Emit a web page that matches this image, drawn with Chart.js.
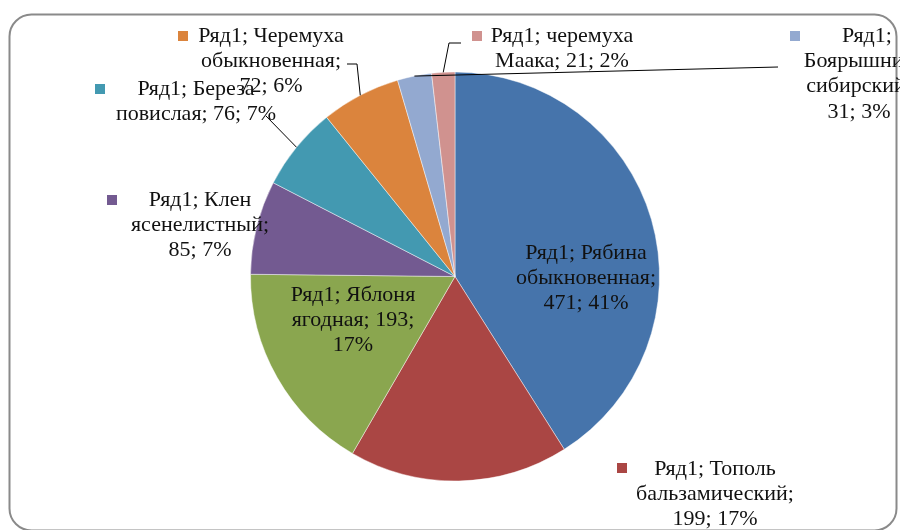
<!DOCTYPE html>
<html>
<head>
<meta charset="utf-8">
<script src="https://cdn.jsdelivr.net/npm/chart.js@4.4.0/dist/chart.umd.min.js"></script>
<style>
  html, body { margin: 0; padding: 0; background: #fff; }
  #canvasPie { display: block; }
</style>
</head>
<body>
<canvas id="canvasPie" width="900" height="530"></canvas>
<script>
"use strict";

// data
var seriesName = 'Ряд1';
var species = [
	'Рябина обыкновенная',
	'Тополь бальзамический',
	'Яблоня ягодная',
	'Клен ясенелистный',
	'Береза повислая',
	'Черемуха обыкновенная',
	'Боярышник сибирский',
	'черемуха Маака'
];
var counts = [471, 199, 193, 85, 76, 72, 31, 21];
var percents = [41, 17, 17, 7, 7, 6, 3, 2];

var sliceColors = [
	'#4674AB', '#AA4644', '#8AA64F', '#735A91',
	'#4399B1', '#DB843D', '#93A9D0', '#D0928F'
];

// where each data label sits (word counts per line, centre x, first line y, key square, leader)
var labelLayout = [
	{ breaks: [2, 1, 2], cx: 586, y: 253, key: null },
	{ breaks: [2, 1, 2], cx: 715, y: 469, key: [617, 463] },
	{ breaks: [2, 2, 1], cx: 353, y: 295, key: null },
	{ breaks: [2, 1, 2], cx: 200, y: 200, key: [107, 195] },
	{ breaks: [2, 3], cx: 196, y: 89, key: [95, 84], leader: [[266, 116]] },
	{ breaks: [2, 1, 2], cx: 271, y: 36, key: [178, 31], leader: [[357, 64], [347, 64]] },
	{ breaks: [1, 1, 1, 2], cx: 859, y: 36, l1dx: 8, key: [790, 31], leader: [[778, 67]] },
	{ breaks: [2, 3], cx: 562, y: 36, key: [472, 31], leader: [[449, 43], [461, 43]] }
];

var LINE_H = 25.3;
var FONT = '22px "Liberation Serif", "Times New Roman", serif';

function LabelWords(i) {
	var text = seriesName + '; ' + species[i] + '; ' + counts[i] + '; ' + percents[i] + '%';
	return text.split(' ');
}

var framePlugin = {
	id: 'frame',
	beforeDraw: function (chart) {
		var ctx = chart.ctx;
		ctx.save();
		ctx.fillStyle = '#fff';
		ctx.fillRect(0, 0, chart.width, chart.height);
		ctx.strokeStyle = '#8a8a8a';
		ctx.lineWidth = 2;
		ctx.beginPath();
		ctx.roundRect(9.5, 14.5, 887, 516, 22);
		ctx.stroke();
		ctx.restore();
	}
};

var labelPlugin = {
	id: 'pieLabels',
	afterDatasetsDraw: function (chart) {
		var ctx = chart.ctx;
		var arcs = chart.getDatasetMeta(0).data;
		ctx.save();
		ctx.font = FONT;
		ctx.textAlign = 'center';
		ctx.textBaseline = 'middle';
		arcs.forEach(function (arc, i) {
			var lay = labelLayout[i];
			// leader line from middle of the slice edge
			if (lay.leader) {
				var mid = (arc.startAngle + arc.endAngle) / 2;
				var px = arc.x + Math.cos(mid) * arc.outerRadius;
				var py = arc.y + Math.sin(mid) * arc.outerRadius;
				ctx.strokeStyle = '#000';
				ctx.lineWidth = 1;
				ctx.beginPath();
				ctx.moveTo(px, py);
				lay.leader.forEach(function (p) { ctx.lineTo(p[0], p[1]); });
				ctx.stroke();
			}
			if (lay.key) {
				ctx.fillStyle = sliceColors[i];
				ctx.fillRect(lay.key[0], lay.key[1], 10, 10);
			}
			var words = LabelWords(i);
			var w = 0;
			ctx.fillStyle = '#111';
			lay.breaks.forEach(function (n, li) {
				var line = words.slice(w, w + n).join(' ');
				w += n;
				var x = lay.cx + (li === 0 && lay.l1dx ? lay.l1dx : 0);
				ctx.fillText(line, x, lay.y + li * LINE_H);
			});
		});
		ctx.restore();
	}
};

var context = document.getElementById('canvasPie');
var pieChart = new Chart(context, {
	type: 'pie',
	data: {
		labels: species,
		datasets: [{
			label: seriesName,
			data: counts,
			backgroundColor: sliceColors,
			borderColor: 'rgba(255,255,255,0.45)',
			borderWidth: 1
		}]
	},
	options: {
		responsive: false,
		animation: false,
		devicePixelRatio: 1,
		layout: { padding: { left: 250, right: 240, top: 71, bottom: 48 } },
		plugins: {
			legend: { display: false },
			tooltip: { enabled: false }
		}
	},
	plugins: [framePlugin, labelPlugin]
});
</script>
</body>
</html>
